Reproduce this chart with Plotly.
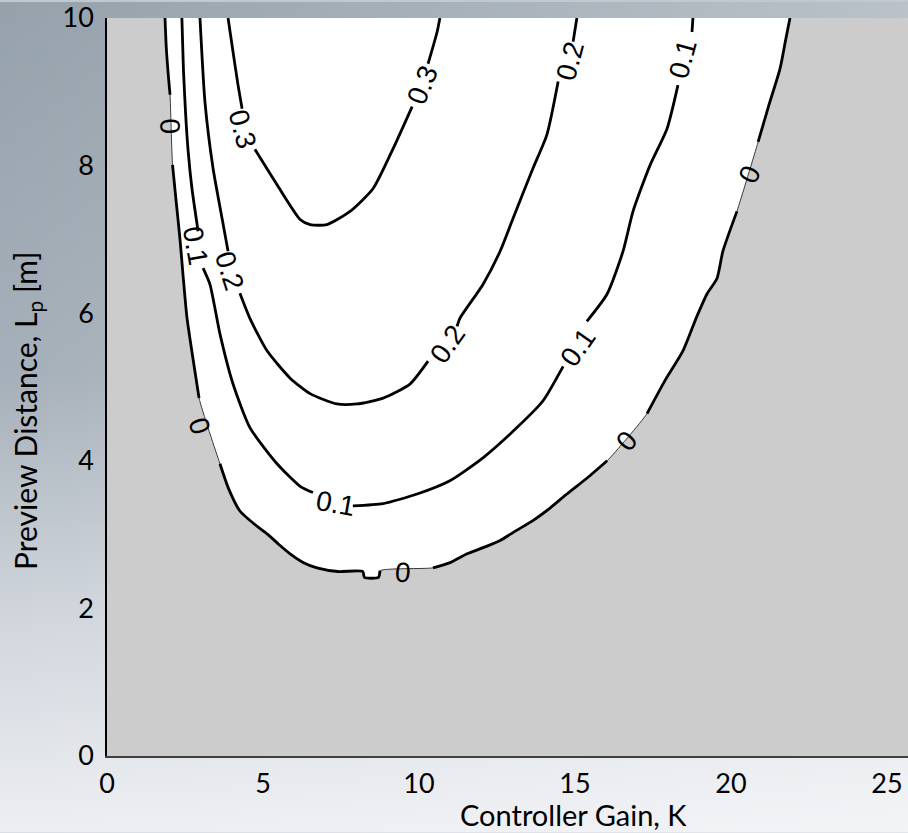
import base64
import plotly.graph_objects as go

# Contour levels of the stability margin over controller gain K and preview distance Lp.
# Each level is a polyline (K, Lp); None marks a break where the inline label sits.
zero_k = [1.86, 1.90, 1.97, 2.02, None, 2.10, 2.22, 2.34, 2.44, 2.56, 2.75, 2.95, None,
          3.62, 3.90, 4.26, 4.70, 5.13, 5.50, 5.87, 6.30, 6.73, 7.40, 8.20, 8.25, 8.70, 8.75, None,
          10.45, 11.00, 11.54, 12.10, 12.60, 13.10, 13.65, 14.20, 14.74, 15.40, 16.03, None,
          17.31, 17.90, 18.46, 18.90, 19.23, 19.55, 19.74, 20.19, None,
          20.87, 21.20, 21.57, 21.75, 21.89]
zero_lp = [10.0, 9.60, 9.20, 8.96, None, 8.01, 7.50, 7.00, 6.50, 5.95, 5.40, 4.85, None,
           3.96, 3.62, 3.32, 3.15, 3.01, 2.87, 2.74, 2.62, 2.55, 2.50, 2.50, 2.42, 2.42, 2.51, None,
           2.55, 2.62, 2.74, 2.83, 2.92, 3.05, 3.19, 3.36, 3.55, 3.77, 4.00, None,
           4.64, 5.10, 5.49, 5.95, 6.26, 6.47, 6.84, 7.38, None,
           8.32, 8.80, 9.31, 9.70, 10.0]

c01_k = [2.40, 2.45, 2.52, 2.60, 2.72, 2.92, None,
         3.08, 3.30, 3.62, 4.04, 4.58, 5.45, 6.20, 6.60, None,
         7.88, 8.85, 9.94, 10.99, 12.05, 13.14, 13.97, 14.62, None,
         15.38, 16.03, 16.54, 16.86, 17.40, 17.95, 18.30, None,
         18.75, 18.78]
c01_lp = [10.0, 9.30, 8.70, 8.20, 7.70, 7.11, None,
          6.61, 6.39, 5.72, 5.04, 4.45, 3.96, 3.65, 3.57, None,
          3.39, 3.42, 3.55, 3.73, 4.04, 4.45, 4.81, 5.28, None,
          5.89, 6.26, 6.84, 7.38, 8.00, 8.50, 9.09, None,
          9.81, 10.0]

c02_k = [2.98, 3.14, 3.40, 3.69, 3.88, None,
         4.26, 4.58, 5.13, 5.87, 6.51, 7.37, 8.01, 8.85, 9.71, 10.29, None,
         11.22, 11.31, 12.05, 12.60, 13.01, 13.65, 14.10, 14.46, None,
         14.94, 15.06]
c02_lp = [10.0, 8.86, 7.96, 7.28, 6.84, None,
          6.27, 5.93, 5.49, 5.12, 4.91, 4.77, 4.77, 4.85, 5.04, 5.35, None,
          5.82, 5.93, 6.39, 6.84, 7.28, 7.96, 8.42, 9.14, None,
          9.68, 10.0]

c03_k = [3.88, 4.04, 4.20, 4.33, None,
         4.74, 5.45, 6.19, 6.51, 7.05, 7.79, 8.53, 9.17, 9.78, None,
         10.29, 10.58, 10.67]
c03_lp = [10.0, 9.54, 9.09, 8.77, None,
          8.22, 7.74, 7.27, 7.20, 7.20, 7.38, 7.69, 8.23, 8.80, None,
          9.38, 9.81, 10.0]

# Inline contour labels: position, text and rotation
label_k = [2.02, 2.98, 9.49, 16.67, 20.60, 2.85, 7.31, 15.10, 18.46, 3.94, 10.90, 14.84, 4.33, 10.10]
label_lp = [8.53, 4.47, 2.49, 4.27, 7.88, 6.91, 3.42, 5.53, 9.45, 6.57, 5.58, 9.41, 8.50, 9.09]
label_text = ["0", "0", "0", "0", "0", "0.1", "0.1", "0.1", "0.1", "0.2", "0.2", "0.2", "0.3", "0.3"]
label_angle = [87, 72, 5, -50, -65, 80, 10, -55, -75, 72, -55, -75, 75, -68]

x_ticks = [0, 5, 10, 15, 20, 25]
y_ticks = [0, 2, 4, 6, 8, 10]

# figure geometry (pixels)
W, H = 908, 833
ML, MR, MT, MB = 107, 0, 16, 77
PW, PH = W - ML - MR, H - MT - MB

AXIS_FONT = dict(family="Lato", size=27, color="black")

fig = go.Figure()

# stable (white) region bounded by the zero level, closed along the top edge
fill_k = [k for k in zero_k if k is not None]
fill_lp = [v for v in zero_lp if v is not None]
fig.add_trace(go.Scatter(x=fill_k, y=fill_lp, mode="lines", fill="toself",
                         fillcolor="white", line=dict(color="#3a3a3a", width=1, shape="spline", smoothing=0.6),
                         hoverinfo="skip", showlegend=False))

for xs, ys in [(zero_k, zero_lp), (c01_k, c01_lp), (c02_k, c02_lp), (c03_k, c03_lp)]:
    fig.add_trace(go.Scatter(x=xs, y=ys, mode="lines", connectgaps=False,
                             line=dict(color="black", width=2.8, shape="spline", smoothing=0.6),
                             hoverinfo="skip", showlegend=False))

for k, lp, t, a in zip(label_k, label_lp, label_text, label_angle):
    fig.add_annotation(x=k, y=lp, xref="x", yref="y", text=t, textangle=a,
                       showarrow=False, font=dict(family="Liberation Sans", size=28, color="black"))

# axis titles
fig.add_annotation(xref="paper", yref="paper", x=(573 - ML) / PW, y=-(815 - (H - MB)) / PH,
                   text="Controller Gain, K", showarrow=False, xanchor="center", yanchor="middle",
                   font=dict(family="Lato", size=29, color="black"))
fig.add_annotation(xref="paper", yref="paper", x=(27 - ML) / PW, y=((H - MB) - 410) / PH,
                   text="Preview Distance, L<sub>p</sub> [m]", textangle=-90, showarrow=False,
                   xanchor="center", yanchor="middle",
                   font=dict(family="Lato", size=30, color="black"))

# slide-style background gradient behind everything
svg = (f'<svg xmlns="http://www.w3.org/2000/svg" width="{W}" height="{H}" preserveAspectRatio="none">'
       '<defs><linearGradient id="v" x1="0" y1="0" x2="0" y2="1">'
       '<stop offset="0" stop-color="#95a1ab"/><stop offset="0.45" stop-color="#a6b0ba"/>'
       '<stop offset="0.75" stop-color="#d2d7dd"/><stop offset="1" stop-color="#eceef2"/>'
       '</linearGradient><linearGradient id="h" x1="0" y1="0" x2="1" y2="0">'
       '<stop offset="0" stop-color="#ffffff" stop-opacity="0"/>'
       '<stop offset="1" stop-color="#ffffff" stop-opacity="0.35"/></linearGradient></defs>'
       f'<rect width="{W}" height="{H}" fill="url(#v)"/><rect width="{W}" height="{H}" fill="url(#h)"/></svg>')
src = "data:image/svg+xml;base64," + base64.b64encode(svg.encode()).decode()
fig.add_layout_image(source=src, xref="paper", yref="paper", x=-ML / PW, y=1 + MT / PH,
                     sizex=W / PW, sizey=H / PH, xanchor="left", yanchor="top",
                     sizing="stretch", layer="below")

# unstable (gray) plot area
fig.add_shape(type="rect", xref="paper", yref="paper", x0=0, x1=1, y0=0, y1=1,
              fillcolor="#cccccc", line=dict(width=0), layer="below")

fig.update_xaxes(range=[0, PW / 31.2], tickvals=x_ticks, showgrid=False, zeroline=False,
                 showline=True, linecolor="#404040", linewidth=2, ticks="",
                 ticklabelstandoff=3, ticklabeloverflow="allow", tickfont=AXIS_FONT)
fig.update_yaxes(range=[0, 10], tickvals=y_ticks, showgrid=False, zeroline=False,
                 showline=True, linecolor="black", linewidth=1.5, ticks="",
                 ticklabelstandoff=6, ticklabeloverflow="allow", tickfont=AXIS_FONT)

fig.update_layout(width=W, height=H, margin=dict(l=ML, r=MR, t=MT, b=MB),
                  paper_bgcolor="#c2c8cf", plot_bgcolor="rgba(0,0,0,0)", showlegend=False)

fig.write_html("out.html")
